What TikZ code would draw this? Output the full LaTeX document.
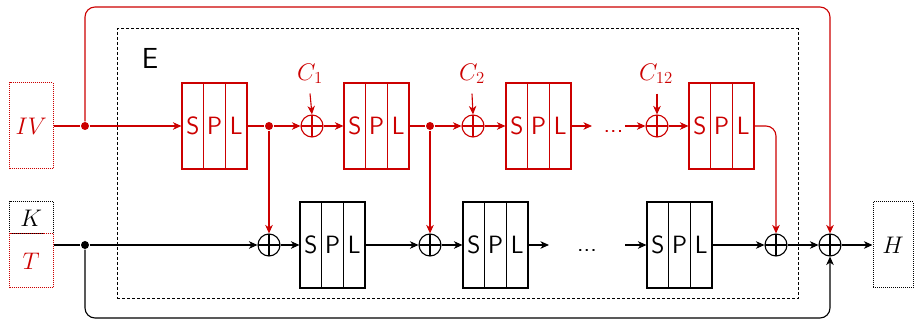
\documentclass[tikz,border=0pt]{standalone}
\usepackage{fix-cm}
\usetikzlibrary{arrows.meta}
\definecolor{cred}{RGB}{204,0,0}
\newcommand\splrow[4]{%
  \node[cell,#4] (#1s) at ({#2+10.83},#3) {S};
  \node[cell,#4] (#1p) at ({#2+32.5},#3) {P};
  \node[cell,#4] (#1l) at ({#2+54.17},#3) {L};}
\begin{document}
\begin{tikzpicture}[x=1pt,y=-1pt,
  line width=1.1pt,
  arr/.style={-{Stealth[length=8.5pt,width=7.5pt,inset=2.5pt]}},
  cell/.style={draw, minimum width=21.67pt, minimum height=86pt, inner sep=0pt,
    font=\fontsize{25}{30}\selectfont\sffamily},
  xorn/.style={draw, circle, minimum size=22pt, inner sep=0pt,
    path picture={\draw (path picture bounding box.north) -- (path picture bounding box.south)
      (path picture bounding box.west) -- (path picture bounding box.east);}},
  dotn/.style={circle, fill, inner sep=0pt, minimum size=8pt},
  mlab/.style={font=\fontsize{24}{28}\selectfont, inner sep=1pt},
  inbox/.style={draw, densely dotted, line width=1pt, inner sep=0pt,
    font=\fontsize{24}{28}\selectfont},
  dotsn/.style={font=\fontsize{25}{30}\selectfont\sffamily, anchor=base, inner sep=0pt},
]
\useasboundingbox (0,0) rectangle (914,320);

% frame
\node[draw, dashed, dash pattern=on 3pt off 2pt, line width=1pt,
  minimum width=681pt, minimum height=270pt, inner sep=0pt] (frame) at (457.5,164) {};
\node[font=\fontsize{29}{34}\selectfont\sffamily, inner sep=0pt] (elab) at (150,58) {E};

% inputs / output
\node[inbox, cred, minimum width=43.5pt, minimum height=86pt] (iv) at (31.25,126) {$IV$};
\node[inbox, minimum width=43.5pt, minimum height=32pt] (k) at (31.25,218) {$K$};
\node[inbox, cred, minimum width=43.5pt, minimum height=54pt] (t) at (31.25,261) {$T$};
\node[inbox, minimum width=40pt, minimum height=86pt] (h) at (893,245) {$H$};

% SPL boxes
\splrow{ra}{182}{126}{cred}
\splrow{rb}{344}{126}{cred}
\splrow{rc}{506}{126}{cred}
\splrow{rd}{689}{126}{cred}
\splrow{ba}{300}{245}{black}
\splrow{bb}{463}{245}{black}
\splrow{bc}{647}{245}{black}

% XORs
\node[xorn, cred] (xc1) at (312,126) {};
\node[xorn, cred] (xc2) at (473,126) {};
\node[xorn, cred] (xc12) at (657,126) {};
\node[xorn] (xb1) at (269,245) {};
\node[xorn] (xb2) at (430,245) {};
\node[xorn] (xb3) at (776,245) {};
\node[xorn] (xf) at (830,245) {};

% dots
\node[dotn, cred] (dIV) at (85,126) {};
\node[dotn, cred] (dA) at (269,126) {};
\node[dotn, cred] (dB) at (430,126) {};
\node[dotn] (dT) at (85,245) {};

% constants
\node[mlab, cred] (lc1) at (310,74) {$C_1$};
\node[mlab, cred] (lc2) at (472,74) {$C_2$};
\node[mlab, cred] (lc12) at (656,74) {$C_{12}$};

% ellipses
\node[dotsn, cred] (rdots) at (613.5,133) {...};
\node[dotsn] (bdots) at (587,251.5) {...};
\coordinate (rd1) at (592,126);
\coordinate (rd2) at (625,126);
\coordinate (bd1) at (549,245);
\coordinate (bd2) at (625,245);
\coordinate (topm) at (450,7);
\coordinate (botm) at (450,318);

% red path
\draw[cred] (iv.east |- dIV) -- (dIV);
\draw[cred,arr] (dIV) -- (ras.west);
\draw[cred,arr,rounded corners=10pt] (dIV) |- (topm) -| (xf.north);
\draw[cred] (ral.east) -- (dA);
\draw[cred,arr] (dA) -- (xc1.west);
\draw[cred,arr] (dA) -- (xb1.north);
\draw[cred,arr] (xc1.east) -- (rbs.west);
\draw[cred] (rbl.east) -- (dB);
\draw[cred,arr] (dB) -- (xc2.west);
\draw[cred,arr] (dB) -- (xb2.north);
\draw[cred,arr] (xc2.east) -- (rcs.west);
\draw[cred,arr] (rcl.east) -- (rd1);
\draw[cred,arr] (rd2) -- (xc12.west);
\draw[cred,arr] (xc12.east) -- (rds.west);
\draw[cred,arr,rounded corners=10pt] (rdl.east) -| (xb3.north);
\draw[cred,arr] ([yshift=-8pt]lc1.south) -- (xc1.north);
\draw[cred,arr] ([yshift=-8pt]lc2.south) -- (xc2.north);
\draw[cred,arr] ([yshift=-8pt]lc12.south -| xc12) -- (xc12.north);

% black path
\draw (t.east |- dT) -- (dT);
\draw[arr] (dT) -- (xb1.west);
\draw[arr,rounded corners=10pt] (dT) |- (botm) -| (xf.south);
\draw[arr] (xb1.east) -- (bas.west);
\draw[arr] (bal.east) -- (xb2.west);
\draw[arr] (xb2.east) -- (bbs.west);
\draw[arr] (bbl.east) -- (bd1);
\draw[arr] (bd2) -- (bcs.west);
\draw[arr] (bcl.east) -- (xb3.west);
\draw[arr] (xb3.east) -- (xf.west);
\draw[arr] (xf.east) -- (h.west);
\end{tikzpicture}
\end{document}
